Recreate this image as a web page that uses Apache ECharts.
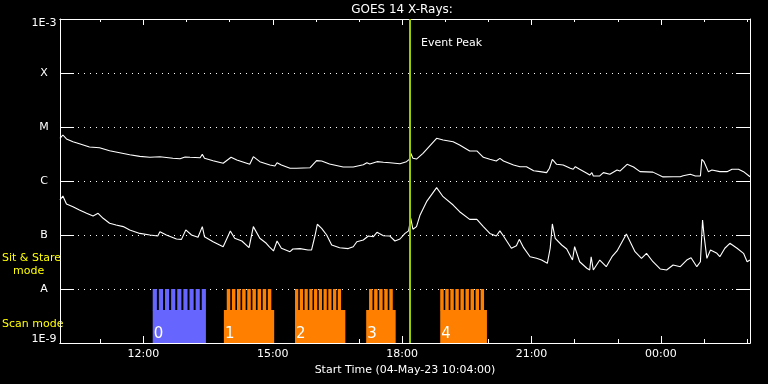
<!DOCTYPE html>
<html><head><meta charset="utf-8">
<script src="https://cdn.jsdelivr.net/npm/echarts@6/dist/echarts.min.js"></script>
<style>html,body{margin:0;padding:0;background:#000}#c{width:768px;height:384px}</style>
</head><body><div id="c"></div>
<script>
const startTime = '10:04';
const endTime = '02:04';
const eventPeak = '18:11';
const majorTicks = ['12:00', '15:00', '18:00', '21:00', '00:00'];
const minorTicks = ['11:00', '12:00', '13:00', '14:00', '15:00', '16:00', '17:00', '18:00', '19:00', '20:00', '21:00', '22:00', '23:00', '00:00', '01:00', '02:00'];
const fluxLevels = [1e-9, 1e-8, 1e-7, 1e-6, 1e-5, 1e-4, 1e-3];
const fluxLabels = ['1E-9', 'A', 'B', 'C', 'M', 'X', '1E-3'];

const longTimes = ['10:04','10:08','10:13','10:22','10:31','10:45','10:59','11:13','11:27','11:41','11:55','12:09','12:23','12:41','12:51','12:58','13:05','13:19','13:22','13:25','13:37','13:51','14:02','14:10','14:28','14:33','14:42','14:56','15:03','15:06','15:12','15:24','15:33','15:52','16:01','16:08','16:19','16:38','16:52','17:06','17:11','17:15','17:25','17:34','17:43','17:57','18:06','18:10','18:12','18:15','18:20','18:29','18:48','18:57','19:11','19:20','19:34','19:44','19:53','20:02','20:11','20:16','20:21','20:35','20:44','20:53','21:03','21:12','21:21','21:25','21:29','21:35','21:44','21:54','21:58','22:01','22:07','22:17','22:21','22:24','22:26','22:35','22:40','22:49','22:59','23:03','23:13','23:22','23:31','23:49','00:03','00:17','00:27','00:31','00:41','00:48','00:55','00:57','01:00','01:06','01:11','01:22','01:32','01:39','01:48','01:55','02:04'];
const longFlux = [6.18e-6,7.11e-6,6.0e-6,5.35e-6,4.91e-6,4.27e-6,4.14e-6,3.64e-6,3.34e-6,3.07e-6,2.86e-6,2.75e-6,2.82e-6,2.63e-6,2.59e-6,2.78e-6,2.75e-6,2.70e-6,3.12e-6,2.63e-6,2.38e-6,2.13e-6,2.75e-6,2.45e-6,2.04e-6,2.82e-6,2.28e-6,1.98e-6,1.90e-6,2.18e-6,1.98e-6,1.72e-6,1.72e-6,1.76e-6,2.38e-6,2.35e-6,2.07e-6,1.82e-6,1.82e-6,2.0e-6,2.18e-6,2.07e-6,2.28e-6,2.22e-6,2.18e-6,2.09e-6,2.28e-6,2.52e-6,3.26e-6,2.63e-6,2.55e-6,3.26e-6,6.18e-6,5.74e-6,5.35e-6,4.64e-6,3.60e-6,3.60e-6,2.75e-6,2.52e-6,2.35e-6,2.63e-6,2.35e-6,1.98e-6,1.84e-6,1.84e-6,1.55e-6,1.49e-6,1.43e-6,1.72e-6,2.52e-6,2.04e-6,1.98e-6,1.72e-6,1.65e-6,1.84e-6,1.65e-6,1.39e-6,1.29e-6,1.43e-6,1.24e-6,1.24e-6,1.43e-6,1.33e-6,1.60e-6,1.53e-6,2.04e-6,1.82e-6,1.49e-6,1.46e-6,1.19e-6,1.20e-6,1.20e-6,1.25e-6,1.33e-6,1.24e-6,1.24e-6,2.52e-6,2.28e-6,1.49e-6,1.60e-6,1.49e-6,1.49e-6,1.65e-6,1.65e-6,1.49e-6,1.20e-6];

const shortTimes = ['10:04','10:08','10:13','10:22','10:31','10:41','10:50','10:57','11:04','11:13','11:22','11:32','11:41','11:55','12:09','12:20','12:23','12:32','12:46','12:53','12:59','13:07','13:16','13:22','13:25','13:37','13:51','14:01','14:07','14:17','14:27','14:33','14:42','14:51','14:55','15:01','15:06','15:12','15:24','15:28','15:38','15:49','15:54','15:59','16:02','16:08','16:15','16:22','16:33','16:45','16:52','16:57','17:06','17:13','17:20','17:25','17:34','17:43','17:50','17:57','18:04','18:09','18:12','18:15','18:20','18:25','18:34','18:48','18:57','19:11','19:20','19:34','19:44','19:53','20:02','20:11','20:16','20:21','20:32','20:39','20:43','20:44','20:49','20:58','21:07','21:14','21:22','21:26','21:29','21:33','21:42','21:49','21:57','22:00','22:07','22:17','22:21','22:23','22:26','22:35','22:44','22:52','22:59','23:12','23:24','23:33','23:40','23:49','23:59','00:08','00:17','00:27','00:36','00:42','00:50','00:55','00:58','01:00','01:04','01:09','01:18','01:22','01:29','01:36','01:46','01:55','02:00','02:04'];
const shortFlux = [4.45e-7,5.27e-7,3.75e-7,3.34e-7,2.90e-7,2.52e-7,2.25e-7,2.52e-7,2.04e-7,1.65e-7,1.53e-7,1.43e-7,1.24e-7,1.07e-7,1.0e-7,9.57e-8,1.15e-7,1.0e-7,8.43e-8,8.3e-8,1.24e-7,1.0e-7,9.06e-8,1.43e-7,9.3e-8,7.51e-8,6.07e-8,1.19e-7,8.69e-8,7.74e-8,5.82e-8,1.43e-7,8.69e-8,7.02e-8,6.07e-8,5.06e-8,7.74e-8,5.68e-8,4.91e-8,5.5e-8,5.6e-8,5.28e-8,5.28e-8,1.0e-7,1.58e-7,1.33e-7,1.0e-7,6.53e-8,5.82e-8,5.6e-8,6.07e-8,7.51e-8,8.08e-8,9.57e-8,9.3e-8,1.12e-7,9.7e-8,9.57e-8,7.74e-8,8.43e-8,1.07e-7,1.19e-7,2.04e-7,1.28e-7,1.43e-7,2.35e-7,4.14e-7,7.52e-7,5.12e-7,3.59e-7,2.7e-7,1.95e-7,1.95e-7,1.43e-7,1.07e-7,9.57e-8,1.19e-7,9.57e-8,5.68e-8,6.34e-8,8.3e-8,7.74e-8,5.82e-8,3.96e-8,3.7e-8,3.44e-8,2.99e-8,5.68e-8,1.6e-7,8.69e-8,6.53e-8,5.5e-8,3.44e-8,6.07e-8,3.2e-8,2.42e-8,2.25e-8,3.96e-8,2.25e-8,3.44e-8,2.59e-8,3.96e-8,5.06e-8,1.04e-7,4.91e-8,3.7e-8,4.58e-8,3.2e-8,2.35e-8,2.25e-8,2.78e-8,2.59e-8,3.44e-8,3.8e-8,2.59e-8,3.2e-8,1.9e-7,1.0e-7,3.7e-8,5.28e-8,4.58e-8,3.96e-8,5.68e-8,7.02e-8,5.68e-8,4.58e-8,3.2e-8,3.44e-8];

const blockLabels = ['0', '1', '2', '3', '4'];
const blockStart = ['12:13', '13:52', '15:31', '17:10', '18:53'];
const blockEnd = ['13:27', '15:02', '16:41', '17:51', '19:58'];
const pulseStart = ['12:13', '13:56', '15:31', '17:14', '18:53'];
const pulseEnd = ['13:27', '14:58', '16:35', '17:47', '19:54'];
const pulseCount = [9, 9, 10, 5, 9];
const blockColor = ['#6666ff', '#ff8000', '#ff8000', '#ff8000', '#ff8000'];
const scanLow = 1e-9, scanTop = 4.1e-9, stareTop = 1e-8;

if (longTimes.length !== longFlux.length) throw new Error('long mismatch ' + longTimes.length + ' ' + longFlux.length);
if (shortTimes.length !== shortFlux.length) throw new Error('short mismatch ' + shortTimes.length + ' ' + shortFlux.length);

function t(s) {
  const p = s.split(':').map(Number);
  const day = p[0] < 10 ? 5 : 4;
  return new Date(2023, 4, day, p[0], p[1]).getTime();
}
const FONT = 'DejaVu Sans';
const pad = n => (n < 10 ? '0' : '') + n;
function timeLabel(v) {
  const d = new Date(v);
  return pad(d.getHours()) + ':' + pad(d.getMinutes());
}
function xAxisDef(pos, ticks, len, labels) {
  return {
    type: 'value', position: pos, min: t(startTime), max: t(endTime),
    axisLine: { show: true, onZero: false, lineStyle: { color: '#fff', width: 1 } },
    axisTick: { show: true, inside: true, length: len, customValues: ticks.map(t), lineStyle: { color: '#fff', width: 1 } },
    axisLabel: labels ? { show: true, color: '#fff', fontFamily: FONT, fontSize: 11, margin: 6, customValues: ticks.map(t), formatter: timeLabel, hideOverlap: false } : { show: false },
    splitLine: { show: false }
  };
}
const chart = echarts.init(document.getElementById('c'), null, { renderer: 'canvas' });
const bottomMajor = xAxisDef('bottom', majorTicks, 7, true);
bottomMajor.name = 'Start Time (04-May-23 10:04:00)';
bottomMajor.nameLocation = 'middle';
bottomMajor.nameGap = 19;
bottomMajor.nameTextStyle = { color: '#fff', fontFamily: FONT, fontSize: 11 };

chart.setOption({
  backgroundColor: '#000',
  animation: false,
  grid: { left: 60, right: 18, top: 19, bottom: 41, containLabel: false, outerBoundsMode: 'none' },
  xAxis: [
    bottomMajor,
    xAxisDef('bottom', minorTicks, 4, false),
    xAxisDef('top', majorTicks, 6, false),
    xAxisDef('top', minorTicks, 3, false)
  ],
  yAxis: [{
    type: 'log', logBase: 10, min: 1e-9, max: 1e-3, splitNumber: 6, position: 'left',
    axisLine: { show: true, onZero: false, lineStyle: { color: '#fff', width: 1 } },
    axisTick: { show: true, inside: true, length: 14, lineStyle: { color: '#fff', width: 1 } },
    axisLabel: {
      color: '#fff', fontFamily: FONT, fontSize: 11, margin: 16, align: 'center', lineHeight: 8,
      formatter: v => {
        const i = Math.round(Math.log10(v)) + 9;
        const s = fluxLabels[i] || '';
        if (i === 6) return '\n' + s;
        if (i === 0) return s + '\n';
        return s;
      }
    },
    splitLine: { show: true, lineStyle: { color: '#fff', width: 1, type: [1, 5] } }
  }, {
    type: 'log', logBase: 10, min: 1e-9, max: 1e-3, splitNumber: 6, position: 'right',
    axisLine: { show: true, onZero: false, lineStyle: { color: '#fff', width: 1 } },
    axisTick: { show: true, inside: true, length: 14, lineStyle: { color: '#fff', width: 1 } },
    axisLabel: { show: false },
    splitLine: { show: false }
  }],
  graphic: [
    { type: 'text', x: 402, y: 10, style: { text: 'GOES 14 X-Rays:', fill: '#fff', font: '12px "' + FONT + '"', align: 'center', verticalAlign: 'middle' } },
    { type: 'text', x: 421, y: 43, style: { text: 'Event Peak', fill: '#fff', font: '11px "' + FONT + '"', align: 'left', verticalAlign: 'middle' } },
    { type: 'text', x: 2, y: 258, style: { text: 'Sit & Stare', fill: '#ffff00', font: '11px "' + FONT + '"', align: 'left', verticalAlign: 'middle' } },
    { type: 'text', x: 13, y: 271, style: { text: 'mode', fill: '#ffff00', font: '11px "' + FONT + '"', align: 'left', verticalAlign: 'middle' } },
    { type: 'text', x: 2, y: 324, style: { text: 'Scan mode', fill: '#ffff00', font: '11px "' + FONT + '"', align: 'left', verticalAlign: 'middle' } }
  ],
  series: [{
    type: 'custom', xAxisIndex: 0, yAxisIndex: 0, z: 1,
    data: blockStart.map(s => [t(s), scanLow]),
    renderItem: (params, api) => {
      const i = params.dataIndex;
      const color = blockColor[i];
      const a = api.coord([t(blockStart[i]), scanLow]);
      const b = api.coord([t(blockEnd[i]), scanTop]);
      const children = [{ type: 'rect', shape: { x: a[0], y: b[1], width: b[0] - a[0], height: a[1] - b[1] }, style: { fill: color } }];
      const p0 = t(pulseStart[i]), p1 = t(pulseEnd[i]), n = pulseCount[i];
      const duty = 0.68;
      const period = (p1 - p0) / (n - 1 + duty);
      for (let k = 0; k < n; k++) {
        const s = p0 + k * period, e = s + period * duty;
        const c0 = api.coord([s, scanTop]);
        const c1 = api.coord([e, stareTop]);
        children.push({ type: 'rect', shape: { x: c0[0], y: c1[1], width: c1[0] - c0[0], height: c0[1] - c1[1] + 0.5 }, style: { fill: color } });
      }
      children.push({ type: 'text', x: a[0] + 1, y: a[1] - 1, style: { text: blockLabels[i], fill: '#fff', font: '15px "' + FONT + '"', align: 'left', verticalAlign: 'bottom' } });
      return { type: 'group', children: children };
    }
  }, {
    type: 'line', name: 'long', xAxisIndex: 0, yAxisIndex: 0, z: 3,
    data: longTimes.map((s, i) => [t(s), longFlux[i]]),
    showSymbol: false, symbol: 'none', lineStyle: { color: '#fff', width: 1.1 },
    markLine: {
      silent: true, symbol: ['none', 'none'], z: 5,
      lineStyle: { color: '#99cc00', width: 2, type: 'solid' },
      label: { show: false },
      data: [{ xAxis: t(eventPeak) }]
    }
  }, {
    type: 'line', name: 'short', xAxisIndex: 0, yAxisIndex: 0, z: 3,
    data: shortTimes.map((s, i) => [t(s), shortFlux[i]]),
    showSymbol: false, symbol: 'none', lineStyle: { color: '#fff', width: 1.1 }
  }]
});
</script></body></html>
